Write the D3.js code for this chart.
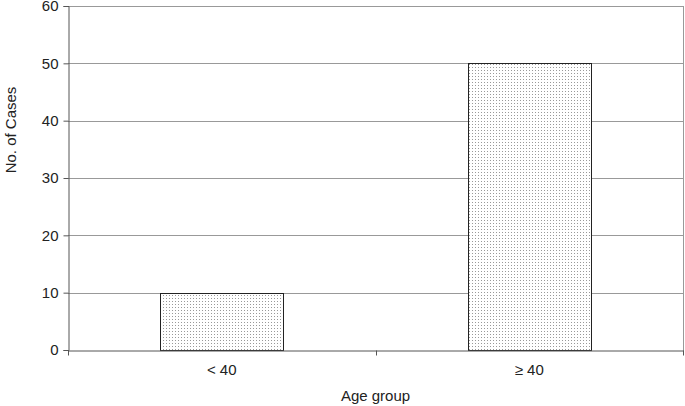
<!DOCTYPE html>
<html><head><meta charset="utf-8">
<script src="https://cdn.jsdelivr.net/npm/d3@7"></script>
<style>body{margin:0;background:#fff;} text{font-family:"Liberation Sans",Arial,sans-serif;fill:#222;}</style>
</head><body><svg id="c" width="685" height="406"></svg>
<script>
const categories = ["< 40", "≥ 40"];
const values = [10, 50];
const yTicks = [0, 10, 20, 30, 40, 50, 60];
const xTitle = "Age group";
const yTitle = "No. of Cases";

const svg = d3.select("#c");
const m = {l: 68, r: 2, t: 6, b: 56};
const W = 685, H = 406;
const x = d3.scaleBand().domain(categories).range([m.l, W - m.r]);
const y = d3.scaleLinear().domain([0, 60]).range([H - m.b, m.t]);

const defs = svg.append("defs");
const pat = defs.append("pattern").attr("id", "dots").attr("patternUnits", "userSpaceOnUse")
  .attr("width", 3).attr("height", 3);
pat.append("rect").attr("width", 3).attr("height", 3).attr("fill", "#fff");
pat.append("rect").attr("x", 1).attr("y", 1).attr("width", 1).attr("height", 1).attr("fill", "#999");

// grid
svg.append("g").selectAll("line").data(yTicks.filter(d => d > 0)).join("line")
  .attr("x1", m.l).attr("x2", W - m.r).attr("y1", d => Math.round(y(d)) + 0.5).attr("y2", d => Math.round(y(d)) + 0.5)
  .attr("stroke", "#999").attr("stroke-width", 1);
// right border
svg.append("line").attr("x1", W - m.r + 0.5).attr("x2", W - m.r + 0.5).attr("y1", m.t).attr("y2", H - m.b + 5)
  .attr("stroke", "#999");

// bars
const bw = x.bandwidth() * 0.4;
svg.append("g").selectAll("rect").data(values).join("rect")
  .attr("x", (d, i) => Math.round(x(categories[i]) + x.bandwidth() / 2 - bw / 2) + 0.5)
  .attr("y", d => Math.round(y(d)) + 0.5)
  .attr("width", Math.round(bw))
  .attr("height", d => Math.round(y(0)) - Math.round(y(d)))
  .attr("fill", "url(#dots)").attr("stroke", "#222").attr("stroke-width", 1);

// y axis
const ya = svg.append("g").attr("transform", `translate(${m.l + 0.5},0)`)
  .call(d3.axisLeft(y).tickValues(yTicks).tickSize(5).tickPadding(5));
ya.select(".domain").attr("stroke", "#555");
ya.selectAll(".tick line").attr("stroke", "#555");
ya.selectAll(".tick text").attr("font-size", 15).attr("fill", "#222").attr("font-family", "Liberation Sans, Arial, sans-serif");

// x axis
const xa = svg.append("g").attr("transform", `translate(0,${Math.round(y(0)) + 0.5})`)
  .call(d3.axisBottom(x).tickSize(0).tickPadding(14));
xa.select(".domain").attr("stroke", "#555");
xa.selectAll(".tick text").attr("font-size", 15).attr("fill", "#222").attr("font-family", "Liberation Sans, Arial, sans-serif");
// category separator ticks
const bounds = [x.range()[0], x.range()[0] + x.bandwidth(), x.range()[1]];
xa.append("g").selectAll("line").data(bounds).join("line")
  .attr("x1", d => Math.round(d) + 0.5).attr("x2", d => Math.round(d) + 0.5).attr("y1", 0).attr("y2", 5)
  .attr("stroke", "#555");

// titles
svg.append("text").attr("x", (m.l + W - m.r) / 2).attr("y", 401).attr("text-anchor", "middle")
  .attr("font-size", 15).text(xTitle);
svg.append("text").attr("transform", `translate(16,130) rotate(-90)`).attr("text-anchor", "middle")
  .attr("font-size", 15).text(yTitle);
</script></body></html>
